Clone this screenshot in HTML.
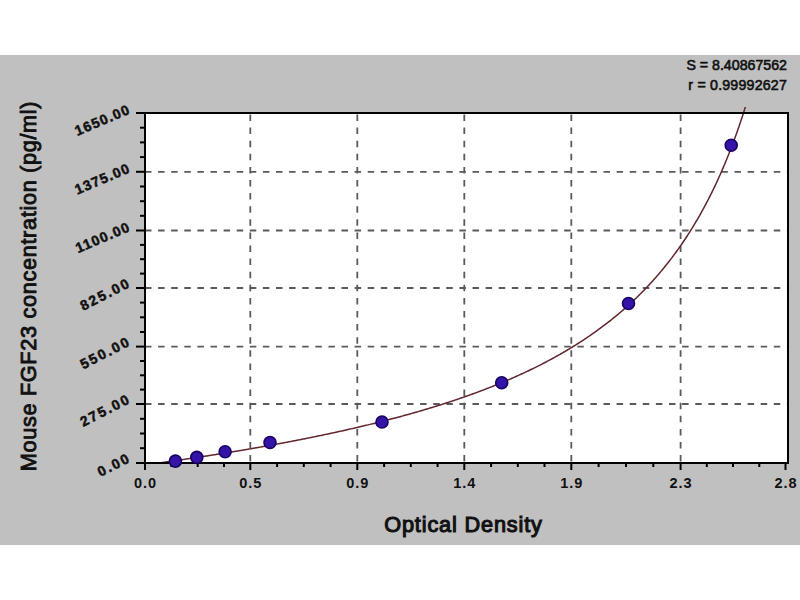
<!DOCTYPE html>
<html><head><meta charset="utf-8"><style>
html,body{margin:0;padding:0;background:#fff;width:800px;height:600px;overflow:hidden;}
svg{display:block;font-family:"Liberation Sans", sans-serif;}
</style></head><body>
<svg width="800" height="600" viewBox="0 0 800 600">
<rect x="0" y="55" width="800" height="490" fill="#c0c0c0"/>
<rect x="145" y="113" width="643" height="350" fill="#ffffff"/>
<line x1="250.3" y1="114.5" x2="250.3" y2="462" stroke="#5a5a5a" stroke-width="1.8" stroke-dasharray="6.5 6.6"/>
<line x1="357.3" y1="114.5" x2="357.3" y2="462" stroke="#5a5a5a" stroke-width="1.8" stroke-dasharray="6.5 6.6"/>
<line x1="464.3" y1="114.5" x2="464.3" y2="462" stroke="#5a5a5a" stroke-width="1.8" stroke-dasharray="6.5 6.6"/>
<line x1="571.3" y1="114.5" x2="571.3" y2="462" stroke="#5a5a5a" stroke-width="1.8" stroke-dasharray="6.5 6.6"/>
<line x1="680.6" y1="114.5" x2="680.6" y2="462" stroke="#5a5a5a" stroke-width="1.8" stroke-dasharray="6.5 6.6"/>
<line x1="145" y1="171.8" x2="787" y2="171.8" stroke="#5a5a5a" stroke-width="1.8" stroke-dasharray="6.5 6.6"/>
<line x1="145" y1="230.5" x2="787" y2="230.5" stroke="#5a5a5a" stroke-width="1.8" stroke-dasharray="6.5 6.6"/>
<line x1="145" y1="288" x2="787" y2="288" stroke="#5a5a5a" stroke-width="1.8" stroke-dasharray="6.5 6.6"/>
<line x1="145" y1="346.6" x2="787" y2="346.6" stroke="#5a5a5a" stroke-width="1.8" stroke-dasharray="6.5 6.6"/>
<line x1="145" y1="404" x2="787" y2="404" stroke="#5a5a5a" stroke-width="1.8" stroke-dasharray="6.5 6.6"/>
<clipPath id="cp"><rect x="145" y="107" width="643" height="356"/></clipPath>
<path d="M146.0,464.75 L147.0,464.62 L148.0,464.48 L149.0,464.34 L150.0,464.21 L151.0,464.07 L152.0,463.93 L153.0,463.79 L154.0,463.66 L155.0,463.52 L156.0,463.38 L157.0,463.24 L158.0,463.10 L159.0,462.96 L160.0,462.82 L161.0,462.68 L162.0,462.54 L163.0,462.40 L164.0,462.26 L165.0,462.12 L166.0,461.97 L167.0,461.83 L168.0,461.69 L169.0,461.55 L170.0,461.40 L171.0,461.26 L172.0,461.12 L173.0,460.97 L174.0,460.83 L175.0,460.68 L176.0,460.54 L177.0,460.39 L178.0,460.25 L179.0,460.10 L180.0,459.96 L181.0,459.81 L182.0,459.66 L183.0,459.52 L184.0,459.37 L185.0,459.22 L186.0,459.07 L187.0,458.93 L188.0,458.78 L189.0,458.63 L190.0,458.48 L191.0,458.33 L192.0,458.18 L193.0,458.03 L194.0,457.88 L195.0,457.73 L196.0,457.58 L197.0,457.43 L198.0,457.27 L199.0,457.12 L200.0,456.97 L201.0,456.82 L202.0,456.66 L203.0,456.51 L204.0,456.36 L205.0,456.20 L206.0,456.05 L207.0,455.89 L208.0,455.74 L209.0,455.58 L210.0,455.43 L211.0,455.27 L212.0,455.11 L213.0,454.95 L214.0,454.80 L215.0,454.64 L216.0,454.48 L217.0,454.32 L218.0,454.16 L219.0,454.00 L220.0,453.84 L221.0,453.68 L222.0,453.52 L223.0,453.36 L224.0,453.20 L225.0,453.04 L226.0,452.88 L227.0,452.72 L228.0,452.55 L229.0,452.39 L230.0,452.23 L231.0,452.06 L232.0,451.90 L233.0,451.73 L234.0,451.57 L235.0,451.40 L236.0,451.24 L237.0,451.07 L238.0,450.90 L239.0,450.74 L240.0,450.57 L241.0,450.40 L242.0,450.23 L243.0,450.06 L244.0,449.90 L245.0,449.73 L246.0,449.56 L247.0,449.39 L248.0,449.21 L249.0,449.04 L250.0,448.87 L251.0,448.70 L252.0,448.53 L253.0,448.35 L254.0,448.18 L255.0,448.01 L256.0,447.83 L257.0,447.66 L258.0,447.48 L259.0,447.31 L260.0,447.13 L261.0,446.95 L262.0,446.78 L263.0,446.60 L264.0,446.42 L265.0,446.24 L266.0,446.06 L267.0,445.88 L268.0,445.70 L269.0,445.52 L270.0,445.34 L271.0,445.16 L272.0,444.98 L273.0,444.80 L274.0,444.61 L275.0,444.43 L276.0,444.25 L277.0,444.06 L278.0,443.88 L279.0,443.69 L280.0,443.51 L281.0,443.32 L282.0,443.14 L283.0,442.95 L284.0,442.76 L285.0,442.57 L286.0,442.38 L287.0,442.19 L288.0,442.00 L289.0,441.81 L290.0,441.62 L291.0,441.43 L292.0,441.24 L293.0,441.05 L294.0,440.85 L295.0,440.66 L296.0,440.47 L297.0,440.27 L298.0,440.08 L299.0,439.88 L300.0,439.69 L301.0,439.49 L302.0,439.29 L303.0,439.09 L304.0,438.90 L305.0,438.70 L306.0,438.50 L307.0,438.30 L308.0,438.10 L309.0,437.89 L310.0,437.69 L311.0,437.49 L312.0,437.29 L313.0,437.08 L314.0,436.88 L315.0,436.67 L316.0,436.47 L317.0,436.26 L318.0,436.06 L319.0,435.85 L320.0,435.64 L321.0,435.43 L322.0,435.22 L323.0,435.01 L324.0,434.80 L325.0,434.59 L326.0,434.38 L327.0,434.17 L328.0,433.96 L329.0,433.74 L330.0,433.53 L331.0,433.31 L332.0,433.10 L333.0,432.88 L334.0,432.66 L335.0,432.45 L336.0,432.23 L337.0,432.01 L338.0,431.79 L339.0,431.57 L340.0,431.35 L341.0,431.13 L342.0,430.91 L343.0,430.68 L344.0,430.46 L345.0,430.23 L346.0,430.01 L347.0,429.78 L348.0,429.56 L349.0,429.33 L350.0,429.10 L351.0,428.87 L352.0,428.64 L353.0,428.41 L354.0,428.18 L355.0,427.95 L356.0,427.72 L357.0,427.49 L358.0,427.25 L359.0,427.02 L360.0,426.78 L361.0,426.55 L362.0,426.31 L363.0,426.07 L364.0,425.83 L365.0,425.59 L366.0,425.35 L367.0,425.11 L368.0,424.87 L369.0,424.63 L370.0,424.38 L371.0,424.14 L372.0,423.89 L373.0,423.65 L374.0,423.40 L375.0,423.15 L376.0,422.91 L377.0,422.66 L378.0,422.41 L379.0,422.16 L380.0,421.90 L381.0,421.65 L382.0,421.40 L383.0,421.14 L384.0,420.89 L385.0,420.63 L386.0,420.38 L387.0,420.12 L388.0,419.86 L389.0,419.60 L390.0,419.34 L391.0,419.08 L392.0,418.81 L393.0,418.55 L394.0,418.29 L395.0,418.02 L396.0,417.75 L397.0,417.49 L398.0,417.22 L399.0,416.95 L400.0,416.68 L401.0,416.41 L402.0,416.13 L403.0,415.86 L404.0,415.59 L405.0,415.31 L406.0,415.04 L407.0,414.76 L408.0,414.48 L409.0,414.20 L410.0,413.92 L411.0,413.64 L412.0,413.36 L413.0,413.07 L414.0,412.79 L415.0,412.50 L416.0,412.22 L417.0,411.93 L418.0,411.64 L419.0,411.35 L420.0,411.06 L421.0,410.77 L422.0,410.47 L423.0,410.18 L424.0,409.88 L425.0,409.58 L426.0,409.29 L427.0,408.99 L428.0,408.69 L429.0,408.39 L430.0,408.08 L431.0,407.78 L432.0,407.47 L433.0,407.17 L434.0,406.86 L435.0,406.55 L436.0,406.24 L437.0,405.93 L438.0,405.62 L439.0,405.30 L440.0,404.99 L441.0,404.67 L442.0,404.35 L443.0,404.03 L444.0,403.71 L445.0,403.39 L446.0,403.07 L447.0,402.75 L448.0,402.42 L449.0,402.09 L450.0,401.76 L451.0,401.43 L452.0,401.10 L453.0,400.77 L454.0,400.44 L455.0,400.10 L456.0,399.76 L457.0,399.43 L458.0,399.09 L459.0,398.75 L460.0,398.40 L461.0,398.06 L462.0,397.71 L463.0,397.37 L464.0,397.02 L465.0,396.67 L466.0,396.32 L467.0,395.96 L468.0,395.61 L469.0,395.25 L470.0,394.89 L471.0,394.53 L472.0,394.17 L473.0,393.81 L474.0,393.45 L475.0,393.08 L476.0,392.71 L477.0,392.34 L478.0,391.97 L479.0,391.60 L480.0,391.23 L481.0,390.85 L482.0,390.47 L483.0,390.09 L484.0,389.71 L485.0,389.33 L486.0,388.94 L487.0,388.56 L488.0,388.17 L489.0,387.78 L490.0,387.39 L491.0,386.99 L492.0,386.60 L493.0,386.20 L494.0,385.80 L495.0,385.40 L496.0,384.99 L497.0,384.59 L498.0,384.18 L499.0,383.77 L500.0,383.36 L501.0,382.95 L502.0,382.53 L503.0,382.11 L504.0,381.70 L505.0,381.27 L506.0,380.85 L507.0,380.42 L508.0,380.00 L509.0,379.57 L510.0,379.13 L511.0,378.70 L512.0,378.26 L513.0,377.83 L514.0,377.38 L515.0,376.94 L516.0,376.50 L517.0,376.05 L518.0,375.60 L519.0,375.15 L520.0,374.69 L521.0,374.23 L522.0,373.78 L523.0,373.31 L524.0,372.85 L525.0,372.38 L526.0,371.91 L527.0,371.44 L528.0,370.97 L529.0,370.49 L530.0,370.01 L531.0,369.53 L532.0,369.05 L533.0,368.56 L534.0,368.07 L535.0,367.58 L536.0,367.08 L537.0,366.58 L538.0,366.08 L539.0,365.58 L540.0,365.07 L541.0,364.56 L542.0,364.05 L543.0,363.54 L544.0,363.02 L545.0,362.50 L546.0,361.98 L547.0,361.45 L548.0,360.92 L549.0,360.39 L550.0,359.85 L551.0,359.32 L552.0,358.77 L553.0,358.23 L554.0,357.68 L555.0,357.13 L556.0,356.58 L557.0,356.02 L558.0,355.46 L559.0,354.89 L560.0,354.33 L561.0,353.76 L562.0,353.18 L563.0,352.60 L564.0,352.02 L565.0,351.44 L566.0,350.85 L567.0,350.26 L568.0,349.66 L569.0,349.06 L570.0,348.46 L571.0,347.85 L572.0,347.24 L573.0,346.63 L574.0,346.01 L575.0,345.39 L576.0,344.76 L577.0,344.13 L578.0,343.50 L579.0,342.86 L580.0,342.22 L581.0,341.57 L582.0,340.92 L583.0,340.27 L584.0,339.61 L585.0,338.95 L586.0,338.28 L587.0,337.61 L588.0,336.93 L589.0,336.25 L590.0,335.57 L591.0,334.88 L592.0,334.18 L593.0,333.48 L594.0,332.78 L595.0,332.07 L596.0,331.36 L597.0,330.64 L598.0,329.92 L599.0,329.19 L600.0,328.45 L601.0,327.72 L602.0,326.97 L603.0,326.22 L604.0,325.47 L605.0,324.71 L606.0,323.95 L607.0,323.18 L608.0,322.40 L609.0,321.62 L610.0,320.83 L611.0,320.04 L612.0,319.24 L613.0,318.44 L614.0,317.63 L615.0,316.81 L616.0,315.99 L617.0,315.16 L618.0,314.33 L619.0,313.49 L620.0,312.64 L621.0,311.79 L622.0,310.93 L623.0,310.06 L624.0,309.19 L625.0,308.31 L626.0,307.42 L627.0,306.53 L628.0,305.63 L629.0,304.72 L630.0,303.81 L631.0,302.89 L632.0,301.96 L633.0,301.02 L634.0,300.08 L635.0,299.13 L636.0,298.17 L637.0,297.20 L638.0,296.23 L639.0,295.25 L640.0,294.26 L641.0,293.26 L642.0,292.25 L643.0,291.23 L644.0,290.21 L645.0,289.18 L646.0,288.14 L647.0,287.09 L648.0,286.03 L649.0,284.96 L650.0,283.88 L651.0,282.80 L652.0,281.70 L653.0,280.59 L654.0,279.48 L655.0,278.35 L656.0,277.22 L657.0,276.07 L658.0,274.92 L659.0,273.75 L660.0,272.58 L661.0,271.39 L662.0,270.19 L663.0,268.98 L664.0,267.76 L665.0,266.53 L666.0,265.29 L667.0,264.03 L668.0,262.77 L669.0,261.49 L670.0,260.20 L671.0,258.90 L672.0,257.58 L673.0,256.25 L674.0,254.91 L675.0,253.56 L676.0,252.19 L677.0,250.81 L678.0,249.42 L679.0,248.01 L680.0,246.59 L681.0,245.15 L682.0,243.70 L683.0,242.23 L684.0,240.75 L685.0,239.26 L686.0,237.74 L687.0,236.22 L688.0,234.67 L689.0,233.11 L690.0,231.54 L691.0,229.94 L692.0,228.33 L693.0,226.71 L694.0,225.06 L695.0,223.40 L696.0,221.72 L697.0,220.02 L698.0,218.30 L699.0,216.56 L700.0,214.80 L701.0,213.02 L702.0,211.23 L703.0,209.41 L704.0,207.57 L705.0,205.71 L706.0,203.83 L707.0,201.92 L708.0,200.00 L709.0,198.05 L710.0,196.07 L711.0,194.08 L712.0,192.06 L713.0,190.01 L714.0,187.94 L715.0,185.85 L716.0,183.73 L717.0,181.58 L718.0,179.40 L719.0,177.20 L720.0,174.97 L721.0,172.71 L722.0,170.42 L723.0,168.10 L724.0,165.75 L725.0,163.37 L726.0,160.96 L727.0,158.52 L728.0,156.04 L729.0,153.53 L730.0,150.99 L731.0,148.41 L732.0,145.79 L733.0,143.14 L734.0,140.45 L735.0,137.73 L736.0,134.96 L737.0,132.16 L738.0,129.31 L739.0,126.42 L740.0,123.49 L741.0,120.52 L742.0,117.50 L743.0,114.44 L744.0,111.33 L745.0,108.17 L746.0,104.96" fill="none" stroke="#62262d" stroke-width="1.5" clip-path="url(#cp)"/>
<rect x="145" y="113" width="643" height="350" fill="none" stroke="#000" stroke-width="2"/>
<line x1="136" y1="113" x2="145" y2="113" stroke="#000" stroke-width="2"/>
<line x1="140" y1="127.7" x2="145" y2="127.7" stroke="#000" stroke-width="2"/>
<line x1="140" y1="142.4" x2="145" y2="142.4" stroke="#000" stroke-width="2"/>
<line x1="140" y1="157.1" x2="145" y2="157.1" stroke="#000" stroke-width="2"/>
<line x1="136" y1="171.8" x2="145" y2="171.8" stroke="#000" stroke-width="2"/>
<line x1="140" y1="186.5" x2="145" y2="186.5" stroke="#000" stroke-width="2"/>
<line x1="140" y1="201.2" x2="145" y2="201.2" stroke="#000" stroke-width="2"/>
<line x1="140" y1="215.8" x2="145" y2="215.8" stroke="#000" stroke-width="2"/>
<line x1="136" y1="230.5" x2="145" y2="230.5" stroke="#000" stroke-width="2"/>
<line x1="140" y1="244.9" x2="145" y2="244.9" stroke="#000" stroke-width="2"/>
<line x1="140" y1="259.2" x2="145" y2="259.2" stroke="#000" stroke-width="2"/>
<line x1="140" y1="273.6" x2="145" y2="273.6" stroke="#000" stroke-width="2"/>
<line x1="136" y1="288" x2="145" y2="288" stroke="#000" stroke-width="2"/>
<line x1="140" y1="302.6" x2="145" y2="302.6" stroke="#000" stroke-width="2"/>
<line x1="140" y1="317.3" x2="145" y2="317.3" stroke="#000" stroke-width="2"/>
<line x1="140" y1="332.0" x2="145" y2="332.0" stroke="#000" stroke-width="2"/>
<line x1="136" y1="346.6" x2="145" y2="346.6" stroke="#000" stroke-width="2"/>
<line x1="140" y1="361.0" x2="145" y2="361.0" stroke="#000" stroke-width="2"/>
<line x1="140" y1="375.3" x2="145" y2="375.3" stroke="#000" stroke-width="2"/>
<line x1="140" y1="389.6" x2="145" y2="389.6" stroke="#000" stroke-width="2"/>
<line x1="136" y1="404" x2="145" y2="404" stroke="#000" stroke-width="2"/>
<line x1="140" y1="418.8" x2="145" y2="418.8" stroke="#000" stroke-width="2"/>
<line x1="140" y1="433.5" x2="145" y2="433.5" stroke="#000" stroke-width="2"/>
<line x1="140" y1="448.2" x2="145" y2="448.2" stroke="#000" stroke-width="2"/>
<line x1="136" y1="463" x2="145" y2="463" stroke="#000" stroke-width="2"/>
<line x1="145" y1="463" x2="145" y2="470" stroke="#000" stroke-width="2"/>
<line x1="171.3" y1="463" x2="171.3" y2="467" stroke="#000" stroke-width="2"/>
<line x1="197.7" y1="463" x2="197.7" y2="467" stroke="#000" stroke-width="2"/>
<line x1="224.0" y1="463" x2="224.0" y2="467" stroke="#000" stroke-width="2"/>
<line x1="250.3" y1="463" x2="250.3" y2="470" stroke="#000" stroke-width="2"/>
<line x1="277.1" y1="463" x2="277.1" y2="467" stroke="#000" stroke-width="2"/>
<line x1="303.8" y1="463" x2="303.8" y2="467" stroke="#000" stroke-width="2"/>
<line x1="330.6" y1="463" x2="330.6" y2="467" stroke="#000" stroke-width="2"/>
<line x1="357.3" y1="463" x2="357.3" y2="470" stroke="#000" stroke-width="2"/>
<line x1="384.1" y1="463" x2="384.1" y2="467" stroke="#000" stroke-width="2"/>
<line x1="410.8" y1="463" x2="410.8" y2="467" stroke="#000" stroke-width="2"/>
<line x1="437.6" y1="463" x2="437.6" y2="467" stroke="#000" stroke-width="2"/>
<line x1="464.3" y1="463" x2="464.3" y2="470" stroke="#000" stroke-width="2"/>
<line x1="491.1" y1="463" x2="491.1" y2="467" stroke="#000" stroke-width="2"/>
<line x1="517.8" y1="463" x2="517.8" y2="467" stroke="#000" stroke-width="2"/>
<line x1="544.5" y1="463" x2="544.5" y2="467" stroke="#000" stroke-width="2"/>
<line x1="571.3" y1="463" x2="571.3" y2="470" stroke="#000" stroke-width="2"/>
<line x1="598.6" y1="463" x2="598.6" y2="467" stroke="#000" stroke-width="2"/>
<line x1="626.0" y1="463" x2="626.0" y2="467" stroke="#000" stroke-width="2"/>
<line x1="653.3" y1="463" x2="653.3" y2="467" stroke="#000" stroke-width="2"/>
<line x1="680.6" y1="463" x2="680.6" y2="470" stroke="#000" stroke-width="2"/>
<line x1="706.8" y1="463" x2="706.8" y2="467" stroke="#000" stroke-width="2"/>
<line x1="733.0" y1="463" x2="733.0" y2="467" stroke="#000" stroke-width="2"/>
<line x1="759.3" y1="463" x2="759.3" y2="467" stroke="#000" stroke-width="2"/>
<line x1="785.5" y1="463" x2="785.5" y2="470" stroke="#000" stroke-width="2"/>
<circle cx="175.4" cy="461.1" r="6" fill="#3414a8" stroke="#1a0060" stroke-width="1.6"/>
<circle cx="196.8" cy="457.4" r="6" fill="#3414a8" stroke="#1a0060" stroke-width="1.6"/>
<circle cx="225.1" cy="451.8" r="6" fill="#3414a8" stroke="#1a0060" stroke-width="1.6"/>
<circle cx="270" cy="442.5" r="6" fill="#3414a8" stroke="#1a0060" stroke-width="1.6"/>
<circle cx="382" cy="422" r="6" fill="#3414a8" stroke="#1a0060" stroke-width="1.6"/>
<circle cx="501.7" cy="382.7" r="6" fill="#3414a8" stroke="#1a0060" stroke-width="1.6"/>
<circle cx="628.5" cy="303.5" r="6" fill="#3414a8" stroke="#1a0060" stroke-width="1.6"/>
<circle cx="731.2" cy="145.2" r="6" fill="#3414a8" stroke="#1a0060" stroke-width="1.6"/>
<text x="145.5" y="488" text-anchor="middle" font-family="Liberation Sans" font-weight="bold" font-size="14.5" letter-spacing="1" fill="#111">0.0</text>
<text x="250.8" y="488" text-anchor="middle" font-family="Liberation Sans" font-weight="bold" font-size="14.5" letter-spacing="1" fill="#111">0.5</text>
<text x="357.8" y="488" text-anchor="middle" font-family="Liberation Sans" font-weight="bold" font-size="14.5" letter-spacing="1" fill="#111">0.9</text>
<text x="464.8" y="488" text-anchor="middle" font-family="Liberation Sans" font-weight="bold" font-size="14.5" letter-spacing="1" fill="#111">1.4</text>
<text x="571.8" y="488" text-anchor="middle" font-family="Liberation Sans" font-weight="bold" font-size="14.5" letter-spacing="1" fill="#111">1.9</text>
<text x="681.1" y="488" text-anchor="middle" font-family="Liberation Sans" font-weight="bold" font-size="14.5" letter-spacing="1" fill="#111">2.3</text>
<text x="786.0" y="488" text-anchor="middle" font-family="Liberation Sans" font-weight="bold" font-size="14.5" letter-spacing="1" fill="#111">2.8</text>
<text x="0" y="0" text-anchor="end" transform="translate(131.5,113) rotate(-23)" font-family="Liberation Sans" font-weight="bold" font-size="14" letter-spacing="1.2" stroke="#111" stroke-width="0.5" fill="#111">1650.00</text>
<text x="0" y="0" text-anchor="end" transform="translate(131.5,171.8) rotate(-23)" font-family="Liberation Sans" font-weight="bold" font-size="14" letter-spacing="1.2" stroke="#111" stroke-width="0.5" fill="#111">1375.00</text>
<text x="0" y="0" text-anchor="end" transform="translate(131.5,230.5) rotate(-23)" font-family="Liberation Sans" font-weight="bold" font-size="14" letter-spacing="1.2" stroke="#111" stroke-width="0.5" fill="#111">1100.00</text>
<text x="0" y="0" text-anchor="end" transform="translate(132,286) rotate(-27)" font-family="Liberation Sans" font-weight="bold" font-size="14" letter-spacing="2" stroke="#111" stroke-width="0.5" fill="#111">825.00</text>
<text x="0" y="0" text-anchor="end" transform="translate(132,344.6) rotate(-27)" font-family="Liberation Sans" font-weight="bold" font-size="14" letter-spacing="2" stroke="#111" stroke-width="0.5" fill="#111">550.00</text>
<text x="0" y="0" text-anchor="end" transform="translate(132,402) rotate(-27)" font-family="Liberation Sans" font-weight="bold" font-size="14" letter-spacing="2" stroke="#111" stroke-width="0.5" fill="#111">275.00</text>
<text x="0" y="0" text-anchor="end" transform="translate(132,461) rotate(-27)" font-family="Liberation Sans" font-weight="bold" font-size="14" letter-spacing="2" stroke="#111" stroke-width="0.5" fill="#111">0.00</text>
<text x="463.5" y="532" text-anchor="middle" font-family="Liberation Sans" font-size="21.7" letter-spacing="0.85" stroke="#111" stroke-width="1.1" fill="#111">Optical Density</text>
<text x="0" y="0" text-anchor="middle" transform="translate(36,286) rotate(-90)" font-family="Liberation Sans" font-size="21.7" letter-spacing="0.67" stroke="#111" stroke-width="0.9" fill="#111">Mouse FGF23 concentration (pg/ml)</text>
<text x="787" y="70" text-anchor="end" font-family="Liberation Sans" font-size="14.2" stroke="#111" stroke-width="0.6" fill="#111">S = 8.40867562</text>
<text x="787" y="90" text-anchor="end" font-family="Liberation Sans" font-size="14.2" letter-spacing="0.2" stroke="#111" stroke-width="0.6" fill="#111">r = 0.99992627</text>
</svg>
</body></html>
